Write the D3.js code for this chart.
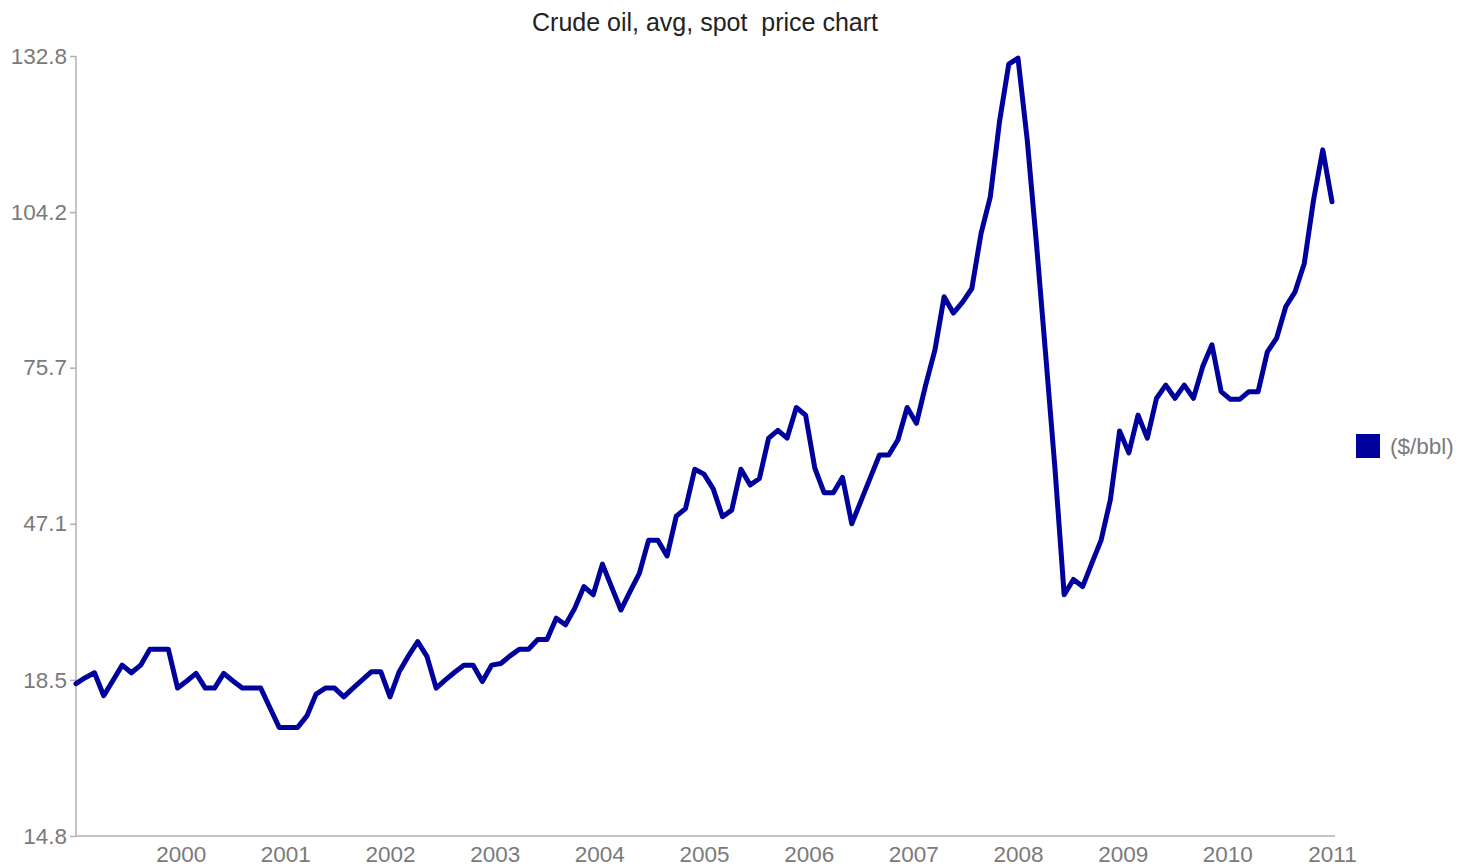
<!DOCTYPE html>
<html>
<head>
<meta charset="utf-8">
<script src="https://cdn.jsdelivr.net/npm/d3@7"></script>
<style>
  html, body { margin: 0; padding: 0; background: #fff; }
  svg text { font-family: "Liberation Sans", Arial, Helvetica, sans-serif; }
</style>
</head>
<body>
<svg id="chart" width="1466" height="867"></svg>
<script>
// ---- data (monthly average spot price) ----
const seriesName = "($/bbl)";
const titleText = "Crude oil, avg, spot\u00a0\u00a0price chart";
const yearLabels = ["2000","2001","2002","2003","2004","2005","2006","2007","2008","2009","2010","2011"];
const yTickValues = [-10.1, 18.5, 47.1, 75.7, 104.2, 132.8];
const yTickLabels = ["14.8", "18.5", "47.1", "75.7", "104.2", "132.8"];
const prices = [
  17.8, 18.9, 19.8, 15.6, 18.4, 21.2, 19.8, 21.2, 24.1, 24.1,
  24.1, 17.0, 18.3, 19.7, 17.0, 17.0, 19.7, 18.3, 17.0, 17.0,
  17.0, 13.4, 9.8, 9.8, 9.8, 11.9, 15.9, 17.0, 17.0, 15.4,
  17.0, 18.5, 20.0, 20.0, 15.4, 20.0, 22.9, 25.5, 22.8, 17.0,
  18.5, 19.9, 21.2, 21.2, 18.2, 21.2, 21.5, 22.9, 24.1, 24.1,
  25.9, 25.9, 29.8, 28.6, 31.6, 35.6, 34.1, 39.7, 35.5, 31.3,
  34.7, 38.0, 44.1, 44.1, 41.2, 48.5, 49.9, 57.1, 56.2, 53.5,
  48.4, 49.6, 57.1, 54.2, 55.4, 62.8, 64.2, 62.8, 68.4, 67.0,
  57.3, 52.8, 52.8, 55.6, 47.1, 51.3, 55.5, 59.7, 59.7, 62.5,
  68.4, 65.5, 72.5, 78.9, 88.7, 85.7, 87.7, 90.2, 100.3, 107.0,
  120.8, 131.3, 132.4, 117.4, 98.4, 78.0, 57.3, 34.1, 36.9, 35.6,
  39.9, 44.1, 51.5, 64.1, 60.1, 67.0, 62.8, 70.1, 72.5, 70.1,
  72.5, 70.1, 75.9, 79.9, 71.3, 69.9, 69.9, 71.3, 71.3, 78.6,
  81.1, 86.9, 89.6, 94.8, 106.4, 115.6, 106.1
];
const startYear = 1999, endYear = 2011;

// ---- layout ----
const svg = d3.select("#chart");
const plotLeft = 76, plotRight = 1332, plotTop = 56, plotBottom = 836;
const lineColor = "#00009c";
const labelColor = "#7a7a7a";
const axisColor = "#b0b0b0";
const labelSize = 22.5;

const x = d3.scaleLinear().domain([startYear, endYear]).range([plotLeft, plotRight]);
const y = d3.scaleLinear().domain([yTickValues[0], yTickValues[yTickValues.length - 1]]).range([plotBottom, plotTop]);
const step = (endYear - startYear) / (prices.length - 1);

// title
svg.append("text")
  .attr("x", 705).attr("y", 31)
  .attr("text-anchor", "middle")
  .attr("font-size", 25)
  .attr("fill", "#222")
  .text(titleText);

// y axis
const yAxis = d3.axisLeft(y)
  .tickValues(yTickValues)
  .tickFormat((d, i) => yTickLabels[i])
  .tickSizeInner(6).tickSizeOuter(0).tickPadding(3);
const gy = svg.append("g").attr("transform", `translate(${plotLeft},0)`).call(yAxis);
gy.select(".domain").remove();
gy.selectAll(".tick line").attr("stroke", axisColor).attr("stroke-width", 1.5);
gy.selectAll(".tick text").attr("fill", labelColor).attr("font-size", labelSize).attr("font-family", "Liberation Sans, Arial, sans-serif");
svg.append("line")
  .attr("x1", plotLeft).attr("x2", plotLeft).attr("y1", plotTop).attr("y2", plotBottom)
  .attr("stroke", axisColor).attr("stroke-width", 1.5);

// x axis
const xAxis = d3.axisBottom(x)
  .tickValues(yearLabels.map(Number))
  .tickFormat(d => String(d))
  .tickSize(0).tickPadding(10);
const gx = svg.append("g").attr("transform", `translate(0,${plotBottom})`).call(xAxis);
gx.select(".domain").remove();
gx.selectAll(".tick text").attr("fill", labelColor).attr("font-size", labelSize).attr("font-family", "Liberation Sans, Arial, sans-serif");
svg.append("line")
  .attr("x1", plotLeft).attr("x2", plotRight + 3).attr("y1", plotBottom).attr("y2", plotBottom)
  .attr("stroke", axisColor).attr("stroke-width", 1.5);

// line
const line = d3.line()
  .x((d, i) => x(startYear + i * step))
  .y(d => y(d));
svg.append("path")
  .datum(prices)
  .attr("fill", "none")
  .attr("stroke", lineColor)
  .attr("stroke-width", 5)
  .attr("stroke-linejoin", "round")
  .attr("stroke-linecap", "round")
  .attr("d", line);

// legend
const legend = svg.append("g").attr("transform", "translate(1356,434)");
legend.append("rect").attr("width", 24).attr("height", 24).attr("fill", lineColor);
legend.append("text")
  .attr("x", 34).attr("y", 12).attr("dy", "0.35em")
  .attr("font-size", labelSize).attr("fill", labelColor)
  .text(seriesName);
</script>
</body>
</html>
